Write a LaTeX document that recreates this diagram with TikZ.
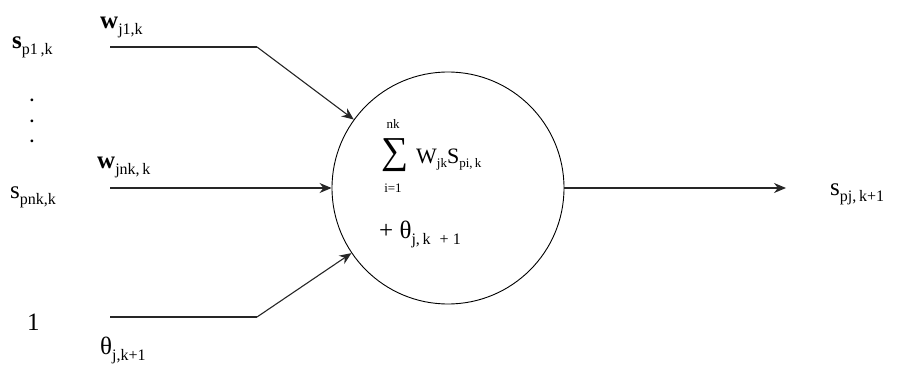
\documentclass[tikz,border=0pt]{standalone}
\usepackage{fontspec}
\setmainfont{Liberation Serif}
\usetikzlibrary{arrows.meta}
\newcommand\lsb[1]{\raisebox{-6pt}{\fontsize{16}{16}\selectfont #1}}
\newcommand\ssb[1]{\raisebox{-4pt}{\fontsize{13}{13}\selectfont #1}}
\begin{document}
\begin{tikzpicture}[x=1pt,y=-1pt,
  wire/.style={line width=1.1pt,draw=black!85},
  arr/.style={wire,-{Stealth[length=12pt,width=10pt]}},
  lbl/.style={inner sep=0pt,anchor=base west,font=\fontsize{25}{27}\selectfont},
  dotlbl/.style={inner sep=0pt,font=\bfseries\fontsize{17}{17}\selectfont}]
\useasboundingbox (0,0) rectangle (901,377);
\node[circle,draw,line width=0.9pt,minimum size=232pt,inner sep=0pt] (n) at (448,188) {};
% inputs
\coordinate (a1) at (110,47);
\coordinate (b1) at (257,47);
\coordinate (a2) at (110,188);
\coordinate (a3) at (110,317);
\coordinate (b3) at (257,317);
\coordinate (out) at (786,188);
\draw[wire] (a1) -- (b1);
\draw[arr] (b1) -- (n.144);
\draw[arr] (a2) -- (n.west);
\draw[wire] (a3) -- (b3);
\draw[arr] (b3) -- (n.214);
\draw[arr] (n.east) -- (out);
% labels
\node[lbl] (s1) at (12,49) {\textbf{s}\lsb{p1\,,k}};
\node[lbl] (w1) at (100,29) {\textbf{w}\lsb{j1,k}};
\node[dotlbl,anchor=base] (d1) at (32,102) {.};
\node[dotlbl,anchor=base] (d2) at (32,122) {.};
\node[dotlbl,anchor=base] (d3) at (32,142) {.};
\node[lbl] (w2) at (97,168) {\textbf{w}\lsb{jnk,\,k}};
\node[lbl] (s2) at (10,198) {s\lsb{pnk,k}};
\node[lbl] (one) at (27,330) {1};
\node[lbl] (th) at (100,354) {θ\lsb{j,k+1}};
\node[lbl] (so) at (830,195) {s\lsb{pj,\,k+1}};
% inside
\node[inner sep=0pt,font=\fontsize{38}{38}\selectfont] (sum) at (395,155) {∑};
\node[inner sep=0pt,font=\fontsize{13}{13}\selectfont] (top) at (393,124) {nk};
\node[inner sep=0pt,font=\fontsize{13}{13}\selectfont] (bot) at (393,188) {i=1};
\node[inner sep=0pt,anchor=base west,font=\fontsize{22}{24}\selectfont] (prod) at (416,163) {W\ssb{jk}S\ssb{pi,\,k}};
\node[inner sep=0pt,anchor=base west,font=\fontsize{25}{27}\selectfont] (bias) at (379,238) {+ θ\lsb{j,\,k\;\;+\;1}};
\end{tikzpicture}
\end{document}
